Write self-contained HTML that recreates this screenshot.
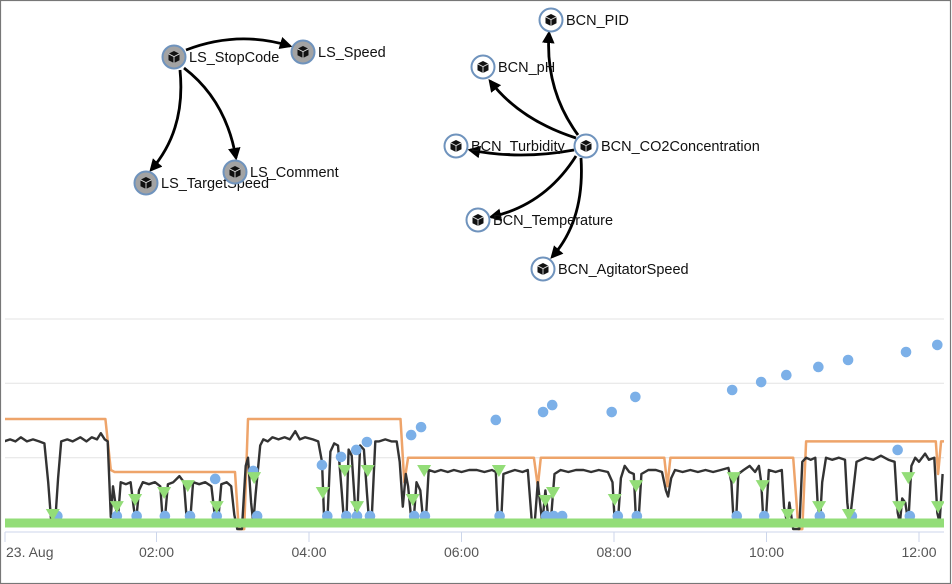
<!DOCTYPE html>
<html><head><meta charset="utf-8"><style>
html,body{margin:0;padding:0;background:#fff;}
#wrap{position:relative;width:952px;height:584px;overflow:hidden;font-family:"Liberation Sans",sans-serif;}
svg text{font-family:"Liberation Sans",sans-serif;}
</style></head><body>
<div id="wrap">
<svg id="svg" width="952" height="584" viewBox="0 0 952 584">
<defs>
<marker id="arr" viewBox="0 0 10 10" refX="8" refY="5" markerWidth="4.5" markerHeight="4.5" orient="auto"><path d="M0,0 L10,5 L0,10 z" fill="#000"/></marker>
<clipPath id="plotclip"><rect x="5" y="300" width="939" height="240"/></clipPath>
<g id="cube"><path d="M-5.5,-3.2 L0,-6 L5.5,-3.2 L5.5,3.2 L0,6 L-5.5,3.2 Z" fill="#111"/><path d="M-5.5,-3.2 L0,-0.4 L5.5,-3.2 M0,-0.4 L0,6" stroke="#ddd" stroke-width="0.9" fill="none"/></g>
</defs>
<rect x="0.5" y="0.5" width="950" height="583" fill="none" stroke="#777" stroke-width="1.2"/>
<g id="graph"></g>
<g id="chart"></g>
</svg>
</div>
<script>
// ---------- dependency graph ----------
const nodeNames = ["LS_StopCode","LS_Speed","LS_TargetSpeed","LS_Comment","BCN_PID","BCN_pH","BCN_Turbidity","BCN_CO2Concentration","BCN_Temperature","BCN_AgitatorSpeed"];
const nodeX = [174,303,146,235,551,483,456,586,478,543];
const nodeY = [57,52,183,172,20,67,146,146,220,269];
const nodeGray = [true,true,true,true,false,false,false,false,false,false];
const edgePaths = [
 "M186,50 Q238,30 290,46",
 "M180,70 Q186,130 151,170",
 "M184,68 Q226,100 236,158",
 "M578,135 Q545,90 549,33",
 "M576,138 Q520,120 490,81",
 "M574,150 Q520,160 470,150",
 "M576,156 Q545,205 491,217",
 "M581,158 Q585,220 552,257"
];
const NS="http://www.w3.org/2000/svg";
const graph=document.getElementById('graph');
function mk(tag,attrs,parent){const e=document.createElementNS(NS,tag);for(const k in attrs)e.setAttribute(k,attrs[k]);parent.appendChild(e);return e;}
edgePaths.forEach((d,i)=>{
  const p=mk('path',{d:d,fill:'none',stroke:'#000','stroke-width':2.8,'marker-end':'url(#arr)'},graph);
  
  
});
nodeNames.forEach((n,i)=>{
  const g=mk('g',{},graph);
  
  
  mk('circle',{cx:nodeX[i],cy:nodeY[i],r:11.5,fill:nodeGray[i]?'#a3a3a3':'#fff',stroke:'#6f93bd','stroke-width':2},g);
  mk('use',{href:'#cube',x:nodeX[i],y:nodeY[i]},g);
  const t=mk('text',{x:nodeX[i]+15,y:nodeY[i]+5,'font-size':14.5,fill:'#111'},g);
  t.textContent=n;
});

// ---------- time series chart ----------
const xTickHours=[2,4,6,8,10,12];
const xTickLabels=["02:00","04:00","06:00","08:00","10:00","12:00"];
const gridValues=[32,68.5,100];
const orangePoints=[[0,51],[1.33,51],[1.4,26],[1.45,25],[3.03,25],[3.08,-3],[3.15,-3],[3.2,51],[5.2,51],[5.25,20],[5.3,32],[6.95,32],[7.0,18],[7.04,32],[8.66,32],[8.7,18],[8.74,32],[10.35,32],[10.42,-3],[10.47,-3],[10.52,40],[12.22,40],[12.25,24],[12.29,40],[12.4,40]];
const blackPoints=[[0,40],[0.08,41],[0.15,40],[0.22,42],[0.3,40],[0.38,41],[0.46,40],[0.53,39],[0.58,20],[0.62,0],[0.67,0],[0.71,22],[0.75,40],[0.83,41],[0.9,40],[1.0,42],[1.08,40],[1.15,42],[1.22,41],[1.27,44],[1.32,41],[1.36,40],
[1.4,3],[1.43,18],[1.46,10],[1.49,0],[1.53,20],[1.6,19],[1.66,20],[1.7,8],[1.73,0],[1.77,16],[1.82,20],[1.9,19],[1.98,20],[2.05,18],[2.08,2],[2.11,2],[2.15,19],[2.22,20],[2.3,23],[2.36,20],[2.4,0],[2.44,0],[2.48,20],[2.56,19],[2.64,20],[2.72,18],[2.77,2],[2.81,2],[2.85,19],[2.92,20],[2.98,18],[3.02,4],[3.06,-3],[3.12,-3],[3.17,28],[3.2,32],[3.24,10],[3.27,0],[3.3,14],[3.36,38],[3.4,41],[3.46,40],[3.52,42],[3.6,41],[3.68,42],[3.75,41],[3.82,45],[3.88,41],[3.95,42],[4.05,41],[4.12,40],[4.17,30],[4.2,0],[4.24,0],[4.28,35],[4.33,39],[4.38,38],[4.43,15],[4.46,0],[4.49,0],[4.52,36],[4.56,33],[4.6,10],[4.63,0],[4.67,38],[4.72,36],[4.76,15],[4.79,0],[4.82,0],[4.87,40],[4.92,40],[5.0,41],[5.08,40],[5.15,40],[5.19,30],[5.23,8],[5.27,24],[5.3,18],[5.34,2],[5.37,0],[5.41,20],[5.46,16],[5.5,0],[5.53,0],[5.57,26],[5.65,25],[5.73,26],[5.82,25],[5.9,26],[6.0,25],[6.1,26],[6.2,26],[6.3,25],[6.4,26],[6.45,25],[6.48,0],[6.52,0],[6.55,24],[6.62,25],[6.7,26],[6.8,25],[6.87,26],[6.92,2],[6.96,0],[7.0,20],[7.03,10],[7.06,0],[7.1,16],[7.14,2],[7.17,0],[7.22,24],[7.3,26],[7.4,25],[7.5,26],[7.6,26],[7.7,25],[7.8,26],[7.92,25],[7.98,20],[8.01,0],[8.05,0],[8.09,22],[8.14,28],[8.2,25],[8.26,24],[8.29,0],[8.32,0],[8.36,24],[8.45,26],[8.55,26],[8.63,25],[8.68,16],[8.71,13],[8.75,22],[8.8,26],[8.9,25],[9.0,26],[9.1,25],[9.2,26],[9.3,25],[9.4,26],[9.5,27],[9.54,20],[9.57,0],[9.6,0],[9.63,24],[9.7,26],[9.78,28],[9.85,25],[9.9,28],[9.93,20],[9.96,0],[9.99,0],[10.03,26],[10.12,25],[10.2,26],[10.23,8],[10.27,0],[10.3,10],[10.35,-3],[10.43,-3],[10.47,30],[10.52,32],[10.58,31],[10.64,32],[10.67,10],[10.7,0],[10.73,20],[10.78,32],[10.86,31],[10.95,32],[11.03,31],[11.06,10],[11.09,0],[11.12,10],[11.18,30],[11.3,32],[11.4,31],[11.5,33],[11.6,31],[11.68,30],[11.72,5],[11.75,0],[11.78,12],[11.82,10],[11.86,0],[11.9,28],[11.95,32],[12.0,30],[12.08,34],[12.13,31],[12.2,32],[12.24,5],[12.27,0],[12.31,24]];
const blueHours=[2.77,3.27,4.17,4.42,4.62,4.76,5.34,5.47,6.45,7.07,7.19,7.97,8.28,9.55,9.93,10.26,10.68,11.07,11.83,12.24,11.72,
 0.70,1.48,1.74,2.11,2.44,2.79,3.32,4.24,4.49,4.63,4.80,5.38,5.52,6.5,7.11,7.21,7.32,8.05,8.30,9.61,9.97,10.7,11.12,11.88];
const blueValues=[21.6,25.5,28.4,32.4,35.8,39.7,43.1,47,50.5,54.4,57.8,54.4,61.8,65.2,69.1,72.5,76.5,79.9,83.8,87.3,35.8,
 3.4,3.4,3.4,3.4,3.4,3.4,3.4,3.4,3.4,3.4,3.4,3.4,3.4,3.4,3.4,3.4,3.4,3.4,3.4,3.4,3.4,3.4,3.4,3.4];
const triHours=[0.64,1.48,1.72,2.1,2.41,2.79,3.28,4.18,4.47,4.63,4.77,5.36,5.51,6.49,7.1,7.2,8.01,8.29,9.57,9.95,10.28,10.69,11.08,11.74,11.86,12.25];
const triValues=[3.9,7.8,11.3,14.7,18.1,7.8,22,14.7,25.5,7.8,25.5,11.3,25.5,25.5,10.8,14.7,11.3,18.1,22,18.1,3.9,7.8,3.9,7.8,22,7.8];
const bandPoints=[[0,0],[12.4,0]];

const X=h=>4+h*76.25;
const Y=v=>523-v*2.04;
const chart=document.getElementById('chart');

gridValues.forEach(v=>{
  const l=mk('line',{x1:5,x2:944,y1:Y(v),y2:Y(v),stroke:'#e3e3e3','stroke-width':1},chart);
  
  
});
const axis=mk('line',{x1:5,x2:944,y1:532,y2:532,stroke:'#ccd6eb','stroke-width':1},chart);


const t0=mk('line',{x1:X(0)+1,x2:X(0)+1,y1:532,y2:542,stroke:'#ccd6eb'},chart);


const l0=mk('text',{x:6,y:557,'font-size':14,fill:'#555'},chart);
l0.textContent='23. Aug';


xTickHours.forEach((h,i)=>{
  const t=mk('line',{x1:X(h),x2:X(h),y1:532,y2:542,stroke:'#ccd6eb'},chart);
  
  
  const tx=mk('text',{x:X(h),y:557,'font-size':14,fill:'#555','text-anchor':'middle'},chart);
  tx.textContent=xTickLabels[i];
  
  
});

const plot=mk('g',{'clip-path':'url(#plotclip)'},chart);
function linePath(pts){return pts.map((p,i)=>(i?'L':'M')+X(p[0]).toFixed(1)+','+Y(p[1]).toFixed(1)).join(' ');}
const orange=mk('path',{d:linePath(orangePoints),fill:'none',stroke:'#eea46a','stroke-width':2.5,'stroke-linejoin':'round'},plot);


const black=mk('path',{d:linePath(blackPoints),fill:'none',stroke:'#333','stroke-width':2.4,'stroke-linejoin':'round'},plot);


blueHours.forEach((h,i)=>{
  const c=mk('circle',{cx:X(h),cy:Y(blueValues[i]),r:5.3,fill:'#7cb0e8'},plot);
  
  
});
const band=mk('path',{d:linePath(bandPoints),fill:'none',stroke:'#93dd78','stroke-width':9},plot);


triHours.forEach((h,i)=>{
  const x=X(h),y=Y(triValues[i]);
  const p=mk('path',{d:`M${x-7},${y-6} L${x+7},${y-6} L${x},${y+6} Z`,fill:'#93dd78'},plot);
  
  
});
</script>
</body></html>
